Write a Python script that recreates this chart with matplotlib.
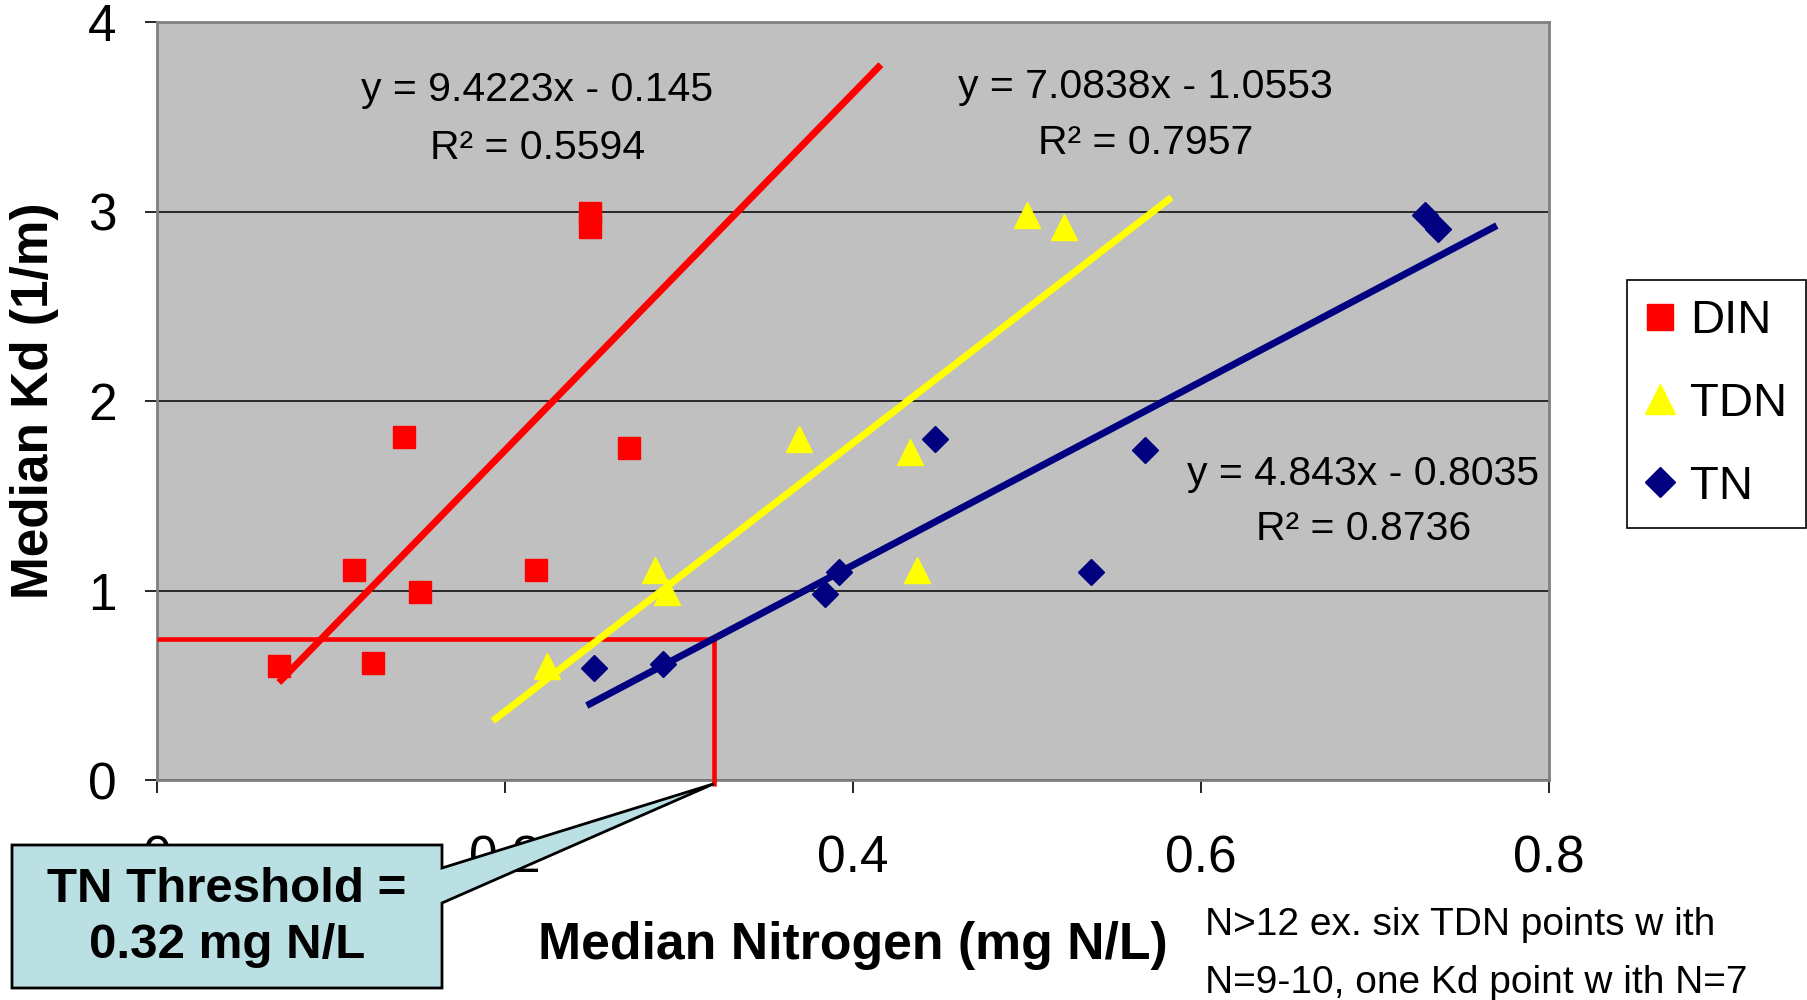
import numpy as np
import matplotlib
matplotlib.use('Agg')
from matplotlib import pyplot as plt
from matplotlib.patches import Polygon

# median nitrogen (mg N/L) vs median Kd (1/m) per station
din_x = [0.070, 0.113, 0.124, 0.142, 0.151, 0.218, 0.249, 0.249, 0.271]
din_y = [0.60, 1.11, 0.62, 1.81, 0.99, 1.11, 2.99, 2.92, 1.75]
tdn_x = [0.224, 0.286, 0.293, 0.369, 0.433, 0.437, 0.500, 0.521]
tdn_y = [0.60, 1.11, 0.99, 1.80, 1.73, 1.11, 2.98, 2.92]
tn_x = [0.251, 0.291, 0.384, 0.392, 0.447, 0.537, 0.568, 0.729, 0.736]
tn_y = [0.59, 0.61, 0.98, 1.10, 1.80, 1.10, 1.74, 2.98, 2.91]

# linear trendlines (DIN, TDN, TN) and the x span each one is drawn over
fit_slope = [9.4223, 7.0838, 4.843]
fit_icpt = [-0.145, -1.0553, -0.8035]
fit_r2 = [0.5594, 0.7957, 0.8736]
fit_xmin = [0.070, 0.193, 0.247]
fit_xmax = [0.416, 0.583, 0.770]

tn_threshold = 0.32

xticks = [0, 0.2, 0.4, 0.6, 0.8]
xticklabels = ['0', '0.2', '0.4', '0.6', '0.8']
yticks = [0, 1, 2, 3, 4]

plt.rcParams['font.family'] = ['Liberation Sans', 'DejaVu Sans']

W, H = 1808, 1000
fig = plt.figure(figsize=(W / 100., H / 100.), dpi=100)
ax = fig.add_axes([157. / W, 1 - 780. / H, (1549. - 157.) / W, (780. - 22.) / H])
ax.set_facecolor('#C0C0C0')

colors = ['#FF0000', '#FFFF00', '#000080']

ax.plot(din_x, din_y, 's', color=colors[0], ms=16.5, mec=colors[0], label='DIN', zorder=3)
ax.plot(tdn_x, tdn_y, '^', color=colors[1], ms=19, mec=colors[1], label='TDN', zorder=3)
ax.plot(tn_x, tn_y, 'D', color=colors[2], ms=13.5, mec=colors[2], label='TN', zorder=3)

# threshold
kd_thr = fit_slope[2] * tn_threshold + fit_icpt[2]
ax.plot([0, tn_threshold], [kd_thr, kd_thr], color='#FF0000', lw=3.3, zorder=3.5,
        solid_capstyle='butt')
ax.plot([tn_threshold, tn_threshold], [kd_thr, -0.03], color='#FF0000', lw=3.3, zorder=3.5,
        solid_capstyle='butt', clip_on=False)

for i in range(3):
  xs = np.array([fit_xmin[i], fit_xmax[i]])
  ax.plot(xs, fit_slope[i] * xs + fit_icpt[i], color=colors[i], lw=5, zorder=4,
          solid_capstyle='butt')

# equation labels
eq_pos = [(0.2187, 3.642, 3.337), (0.568, 3.659, 3.361), (0.6933, 1.617, 1.324)]
for i in range(3):
  ex, ey, ry = eq_pos[i]
  ax.text(ex, ey, 'y = %gx - %g' % (fit_slope[i], abs(fit_icpt[i])), ha='center', va='center',
          fontsize=29.5, zorder=5)
  ax.text(ex, ry, 'R\u00b2 = %.4f' % fit_r2[i], ha='center', va='center',
          fontsize=29.5, zorder=5)

ax.set_xlim(0, 0.8)
ax.set_ylim(0, 4)
ax.set_xticks(xticks)
ax.set_xticklabels(xticklabels)
ax.set_yticks(yticks)
ax.tick_params(direction='out', length=9, width=1.2, colors='black', labelsize=37)
ax.tick_params(axis='x', pad=30)
ax.tick_params(axis='y', pad=20)
ax.yaxis.grid(True, color='black', lw=1.1)
ax.set_axisbelow(True)
for s in ax.spines.values():
  s.set_color('#808080')
  s.set_linewidth(2)

ax.set_xlabel('Median Nitrogen (mg N/L)', fontsize=37.3, fontweight='bold')
ax.xaxis.set_label_coords(0.5, -(946. - 780.) / 758.)
ax.xaxis.label.set_va('center')
ax.set_ylabel('Median Kd (1/m)', fontsize=37, fontweight='bold')
ax.yaxis.set_label_coords((35. - 157.) / 1392., 0.5)
ax.yaxis.label.set_va('center')

leg = ax.legend(loc='center right', bbox_to_anchor=(1806. / W, 1 - 404. / H),
                bbox_transform=fig.transFigure, borderaxespad=0, fontsize=34, frameon=True,
                fancybox=False, framealpha=1, edgecolor='black', handlelength=0.6,
                handletextpad=0.34, labelspacing=0.82, borderpad=0.4, markerscale=1.15)
leg.get_frame().set_linewidth(1.2)

# callout box pointing at the threshold on the x axis
fig.canvas.draw()
tip = fig.transFigure.inverted().transform(ax.transData.transform((tn_threshold, -0.02)))
bx0, bx1 = 12. / W, 442. / W
by0, by1 = 1 - 988. / H, 1 - 845. / H
wlo, whi = 1 - 903. / H, 1 - 868. / H
callout = Polygon([(bx0, by0), (bx1, by0), (bx1, wlo), tuple(tip), (bx1, whi), (bx1, by1), (bx0, by1)],
                  closed=True, transform=fig.transFigure, facecolor='#BBE0E3', edgecolor='black',
                  lw=2, zorder=10)
fig.add_artist(callout)
fig.text(227. / W, 1 - 889. / H, 'TN Threshold =', ha='center', va='center', fontsize=35.5,
         fontweight='bold', zorder=11)
fig.text(227. / W, 1 - 946. / H, '0.32 mg N/L', ha='center', va='center', fontsize=35.5,
         fontweight='bold', zorder=11)

# sample size note
fig.text(1205. / W, 1 - 925. / H, 'N>12 ex. six TDN points w ith', ha='left', va='center',
         fontsize=28)
fig.text(1205. / W, 1 - 983. / H, 'N=9-10, one Kd point w ith N=7', ha='left', va='center',
         fontsize=28)

fig.savefig('out.png', dpi=100, facecolor='white')
